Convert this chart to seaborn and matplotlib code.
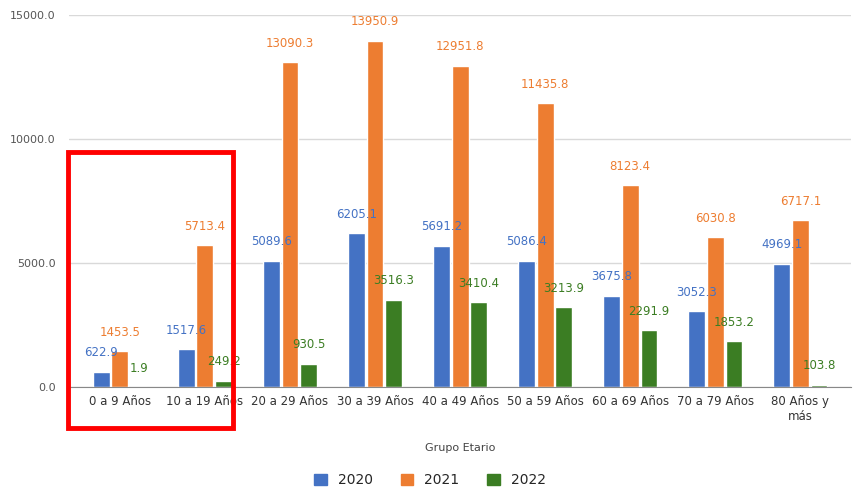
import matplotlib
matplotlib.use("Agg")
import matplotlib.pyplot as plt
import matplotlib.patches as mpatches
import pandas as pd
import seaborn as sns

# Data
grupos = ["0 a 9 Años", "10 a 19 Años", "20 a 29 Años", "30 a 39 Años",
          "40 a 49 Años", "50 a 59 Años", "60 a 69 Años", "70 a 79 Años",
          "80 Años y\nmás"]
anios = ["2020", "2021", "2022"]
v2020 = [622.9, 1517.6, 5089.6, 6205.1, 5691.2, 5086.4, 3675.8, 3052.3, 4969.1]
v2021 = [1453.5, 5713.4, 13090.3, 13950.9, 12951.8, 11435.8, 8123.4, 6030.8, 6717.1]
v2022 = [1.9, 249.2, 930.5, 3516.3, 3410.4, 3213.9, 2291.9, 1853.2, 103.8]
colores = ["#4472C4", "#ED7D31", "#3B7D23"]

df = pd.DataFrame({
    "Grupo": grupos * 3,
    "Año": [a for a in anios for _ in grupos],
    "Valor": v2020 + v2021 + v2022,
})

sns.set_style("white")
plt.rcParams["font.family"] = ["DejaVu Sans"]

fig = plt.figure(figsize=(8.6, 4.95), dpi=100)
ax = fig.add_axes([0.08, 0.218, 0.91, 0.752])

sns.barplot(data=df, x="Grupo", y="Valor", hue="Año", palette=colores,
            saturation=1, width=0.66, gap=0.1, ax=ax, legend=False)

for cont, col in zip(ax.containers, colores):
    ax.bar_label(cont, fmt="%.1f", padding=9, color=col, fontsize=8.5)

ax.set_ylim(0, 15000)
ax.set_xlim(-0.6, 8.6)
ax.set_yticks([0, 5000, 10000, 15000])
ax.set_yticklabels(["0.0", "5000.0", "10000.0", "15000.0"])
ax.yaxis.grid(True, color="#d9d9d9", lw=1)
ax.set_axisbelow(True)
for s in ["top", "right", "left"]:
    ax.spines[s].set_visible(False)
ax.spines["bottom"].set_color("#888888")
ax.tick_params(axis="y", length=6, color="#d9d9d9", labelsize=8, labelcolor="#555555")
ax.tick_params(axis="x", length=0, labelsize=8.5, labelcolor="#333333", pad=6)
ax.set_ylabel("")
ax.set_xlabel("Grupo Etario", fontsize=8, color="#444444", labelpad=14)

handles = [mpatches.Patch(color=c, label=a) for c, a in zip(colores, anios)]
fig.legend(handles=handles, loc="lower center", bbox_to_anchor=(0.5, -0.01),
           ncol=3, frameon=False, fontsize=10, handlelength=0.9,
           handleheight=0.9, columnspacing=2.0)

# red highlight rectangle from the reference
fig.patches.append(mpatches.Rectangle((68 / 860, 1 - 428 / 495), 165 / 860, 276 / 495,
                                      transform=fig.transFigure, fill=False,
                                      edgecolor="#ff0000", lw=3.5))

fig.savefig("out.png", dpi=100)
